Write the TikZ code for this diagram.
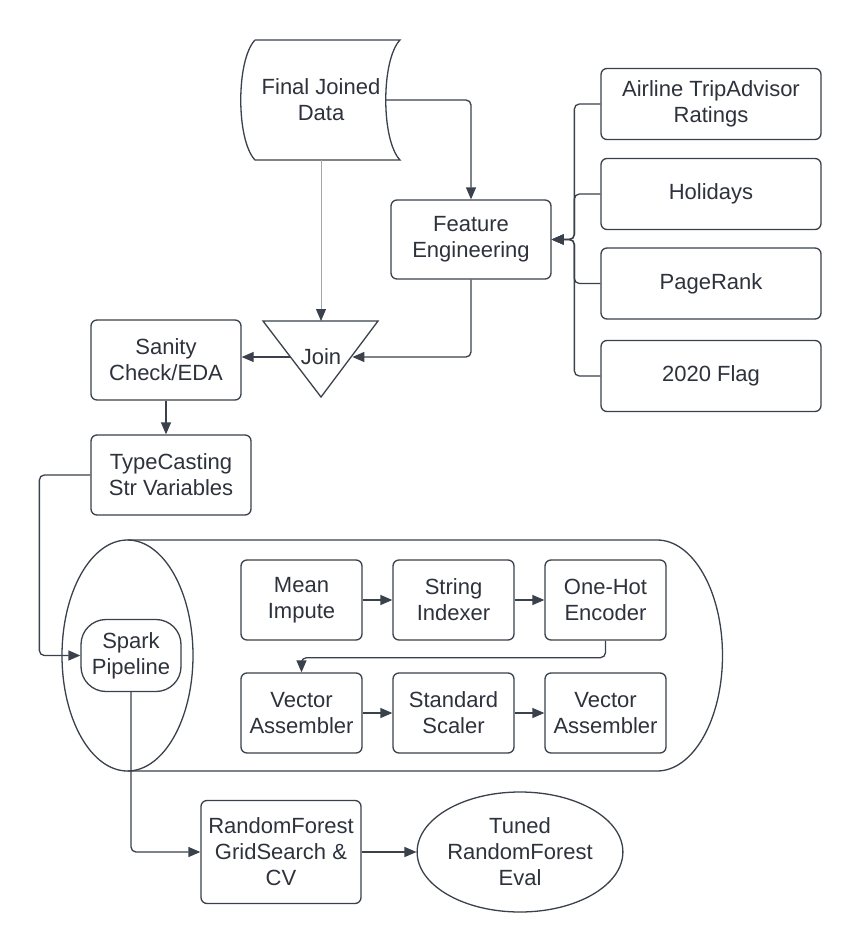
\documentclass[tikz,border=0pt]{standalone}
\usepackage{fontspec}
\newfontfamily\lcfont{Liberation Sans}
\usetikzlibrary{arrows.meta,shapes.geometric}
\definecolor{lc}{RGB}{58,65,74}
\definecolor{lclight}{RGB}{165,165,165}
\definecolor{tc}{RGB}{45,50,60}
\tikzset{
	box/.style={draw=lc, line width=1.3pt, rounded corners=6pt, align=center, text=tc, inner sep=0pt,
		font=\lcfont\fontsize{22}{26}\selectfont},
	stage/.style={box, minimum width=121pt, minimum height=80pt},
	source/.style={box, minimum width=220pt, minimum height=71pt},
	label/.style={align=center, text=tc, font=\lcfont\fontsize{22}{26}\selectfont},
	arr/.style={draw=lc, line width=1.3pt, rounded corners=5pt, -{Triangle[length=12pt,width=10pt]}},
}

\begin{document}
\begin{tikzpicture}[x=1pt, y=-1pt]
		%%%%% START %%%%%
		\path[fill=white] (0, 0) rectangle (861, 952);
		\useasboundingbox (0, 0) rectangle (861, 952);
		
		% stored data
		\draw[lc, line width=1.3pt] (255, 40) -- (400, 40) .. controls (381, 60) and (381, 140) .. (400, 160)
			-- (255, 160) .. controls (236, 140) and (236, 60) .. (255, 40);
		\node[label, minimum width=140pt, minimum height=120pt] (data) at (321, 100) {Final Joined\\Data};
		\coordinate (dataR) at (385, 100);
		
		% join
		\draw[lc, line width=1.3pt] (263, 321) -- (378, 321) -- (321, 397) -- cycle;
		\coordinate (joinTop) at (321, 321);
		\node[label, inner xsep=11pt] (join) at (321, 357) {Join};
		
		\node[box, minimum width=160pt, minimum height=79pt] (fe) at (471, 239.5) {Feature\\Engineering};
		\node[box, minimum width=150pt, minimum height=80pt] (sanity) at (166, 360) {Sanity\\Check/EDA};
		\node[box, minimum width=160pt, minimum height=80pt] (cast) at (171, 475) {TypeCasting\\Str Variables};
		
		\node[source] (airline) at (711, 104) {Airline TripAdvisor\\Ratings};
		\node[source] (holidays) at (711, 194) {Holidays};
		\node[source] (pagerank) at (711, 283.5) {PageRank};
		\node[source] (flag) at (711, 376) {2020 Flag};
		
		% pipeline cylinder
		\draw[lc, line width=1.3pt] (127.5, 655.5) ellipse (65.5 and 115.5);
		\draw[lc, line width=1.3pt] (127.5, 540) -- (657, 540)
			.. controls (693.2, 540) and (722.5, 591.7) .. (722.5, 655.5)
			.. controls (722.5, 719.3) and (693.2, 771) .. (657, 771) -- (127.5, 771);
		
		\node[box, rounded corners=25pt, minimum width=100pt, minimum height=72pt] (spark) at (131, 655.5) {Spark\\Pipeline};
		
		\node[stage] (impute) at (301.5, 600) {Mean\\Impute};
		\node[stage] (indexer) at (453.5, 600) {String\\Indexer};
		\node[stage] (onehot) at (605.5, 600) {One-Hot\\Encoder};
		\node[stage] (assemA) at (301.5, 713) {Vector\\Assembler};
		\node[stage] (scaler) at (453.5, 713) {Standard\\Scaler};
		\node[stage] (assemB) at (605.5, 713) {Vector\\Assembler};
		
		\node[box, minimum width=160pt, minimum height=103pt] (rf) at (281, 852) {RandomForest\\GridSearch \&\\CV};
		\node[label, draw=lc, line width=1.3pt, ellipse, inner sep=0pt, minimum width=160pt, minimum height=120pt] (eval) at (520, 852) {Tuned\\RandomForest\\Eval};
		
		% connectors
		\draw[arr] (dataR) -| (fe.north);
		\draw[arr, draw=lclight, line width=1pt, -{Triangle[length=12pt,width=10pt,color=lc]}] (data.south) -- (joinTop);
		\draw[arr] (fe.south) |- (join.east);
		\draw[arr] (join.west) -- (join.west -| sanity.east);
		\draw[arr] (sanity.south) -- (sanity.south |- cast.north);
		\draw[arr] (cast.west) -- ++(-51, 0) |- (spark.west);
		\foreach \src in {airline, holidays, pagerank, flag}
			\draw[arr] (\src.west) -- ++(-26, 0) |- (fe.east);
		
		\draw[arr] (impute) -- (indexer);
		\draw[arr] (indexer) -- (onehot);
		\draw[arr] (onehot.south) -- ++(0, 17) -| (assemA.north);
		\draw[arr] (assemA) -- (scaler);
		\draw[arr] (scaler) -- (assemB);
		
		\draw[arr] (spark.south) |- (rf.west);
		\draw[arr] (rf) -- (eval);
		%%%%% END %%%%%
\end{tikzpicture}
\end{document}
